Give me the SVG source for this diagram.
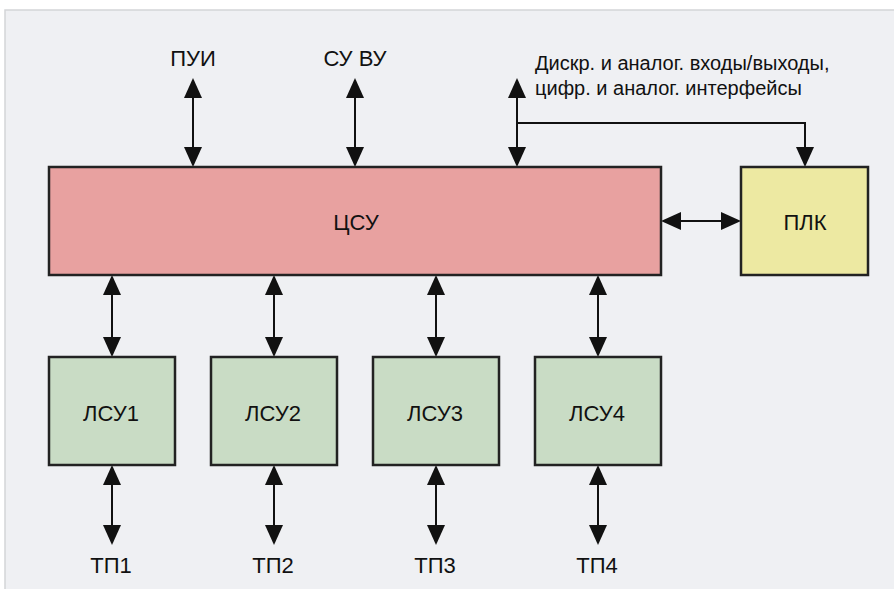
<svg xmlns="http://www.w3.org/2000/svg" width="894" height="589" viewBox="0 0 894 589">
<style>
.box{stroke:#222;stroke-width:2.5}
.lbl{font-family:"Liberation Sans",Arial,sans-serif;font-size:22px;fill:#111;text-anchor:middle}
.txt{font-family:"Liberation Sans",Arial,sans-serif;font-size:20px;fill:#111}
.con{stroke:#111;stroke-width:2;fill:none}
</style>
<defs>
<marker id="ah" viewBox="0 0 20 18" refX="17" refY="9" markerWidth="20" markerHeight="18" markerUnits="userSpaceOnUse" orient="auto-start-reverse">
<path d="M0,0 L20,9 L0,18 z" fill="#111"/>
</marker>
</defs>
<rect x="0" y="0" width="894" height="589" fill="#ffffff"/>
<rect x="5" y="10" width="895" height="585" fill="#eff0f3" stroke="#d4d5d8" stroke-width="1.5"/>

<g id="connectors">
<line class="con" x1="193" y1="81" x2="193" y2="164" marker-start="url(#ah)" marker-end="url(#ah)"/>
<line class="con" x1="355" y1="81" x2="355" y2="164" marker-start="url(#ah)" marker-end="url(#ah)"/>
<line class="con" x1="517" y1="81" x2="517" y2="164" marker-start="url(#ah)" marker-end="url(#ah)"/>
<path class="con" d="M517,123 H805 V164" marker-end="url(#ah)"/>
<line class="con" x1="664" y1="221" x2="738" y2="221" marker-start="url(#ah)" marker-end="url(#ah)"/>
<line class="con" x1="112" y1="278" x2="112" y2="354" marker-start="url(#ah)" marker-end="url(#ah)"/>
<line class="con" x1="274" y1="278" x2="274" y2="354" marker-start="url(#ah)" marker-end="url(#ah)"/>
<line class="con" x1="436" y1="278" x2="436" y2="354" marker-start="url(#ah)" marker-end="url(#ah)"/>
<line class="con" x1="598" y1="278" x2="598" y2="354" marker-start="url(#ah)" marker-end="url(#ah)"/>
<line class="con" x1="112" y1="468" x2="112" y2="542" marker-start="url(#ah)" marker-end="url(#ah)"/>
<line class="con" x1="274" y1="468" x2="274" y2="542" marker-start="url(#ah)" marker-end="url(#ah)"/>
<line class="con" x1="436" y1="468" x2="436" y2="542" marker-start="url(#ah)" marker-end="url(#ah)"/>
<line class="con" x1="598" y1="468" x2="598" y2="542" marker-start="url(#ah)" marker-end="url(#ah)"/>
</g>

<g id="csu">
<rect class="box" x="49" y="167" width="612" height="108" fill="#e8a1a0"/>
<text class="lbl" x="356" y="230">ЦСУ</text>
</g>
<g id="plk">
<rect class="box" x="741" y="167" width="127" height="108" fill="#ede9a2"/>
<text class="lbl" x="805" y="230">ПЛК</text>
</g>
<g id="lsu1">
<rect class="box" x="49" y="357" width="126" height="108" fill="#c9dcc5"/>
<text class="lbl" x="111" y="421">ЛСУ1</text>
</g>
<g id="lsu2">
<rect class="box" x="211" y="357" width="126" height="108" fill="#c9dcc5"/>
<text class="lbl" x="273" y="421">ЛСУ2</text>
</g>
<g id="lsu3">
<rect class="box" x="373" y="357" width="126" height="108" fill="#c9dcc5"/>
<text class="lbl" x="435" y="421">ЛСУ3</text>
</g>
<g id="lsu4">
<rect class="box" x="535" y="357" width="126" height="108" fill="#c9dcc5"/>
<text class="lbl" x="597" y="421">ЛСУ4</text>
</g>

<g id="labels">
<text class="lbl" x="193" y="66">ПУИ</text>
<text class="lbl" x="355" y="66">СУ ВУ</text>
<text class="txt" x="535" y="70">Дискр. и аналог. входы/выходы,</text>
<text class="txt" x="535" y="95">цифр. и аналог. интерфейсы</text>
<text class="lbl" x="111" y="573">ТП1</text>
<text class="lbl" x="273" y="573">ТП2</text>
<text class="lbl" x="435" y="573">ТП3</text>
<text class="lbl" x="597" y="573">ТП4</text>
</g>
</svg>
